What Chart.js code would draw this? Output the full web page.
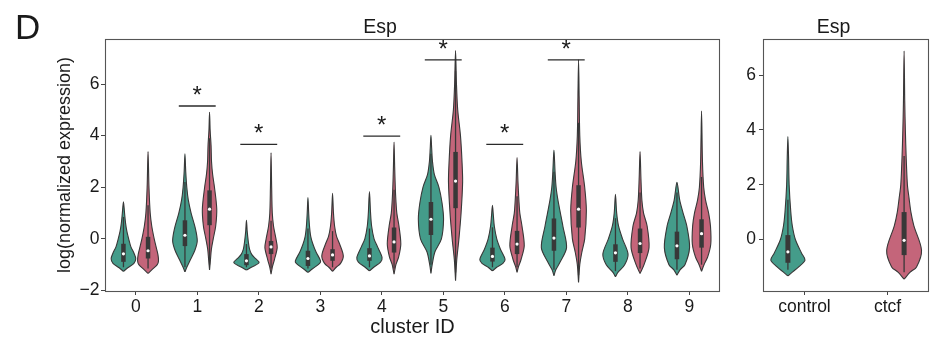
<!DOCTYPE html>
<html><head><meta charset="utf-8">
<script src="https://cdn.jsdelivr.net/npm/chart.js@4.4.0/dist/chart.umd.min.js"></script>
<style>
html,body{margin:0;padding:0;background:#fff;}
#wrap{position:relative;width:933px;height:339px;overflow:hidden;background:#fff;}
canvas{position:absolute;top:0;}
</style></head><body>
<div id="wrap">
<canvas id="left" width="735" height="339" style="left:0"></canvas>
<canvas id="right" width="198" height="339" style="left:735px"></canvas>
</div>
<script>
// ---------------- DATA ----------------
const clusters = ['0','1','2','3','4','5','6','7','8','9'];
const groups = ['control','ctcf'];
const yTicksLeft = [-2, 0, 2, 4, 6];
const yTicksRight = [0, 2, 4, 6];

// per-cluster box statistics (control = teal, ctcf = pink)
const controlQ1     = [-0.89,-0.28,-1.02,-1.05,-0.85, 0.15,-0.88,-0.46,-0.89,-0.79];
const controlMedian = [-0.58, 0.14,-0.85,-0.76,-0.66, 0.76,-0.68, 0.03,-0.54,-0.27];
const controlQ3     = [-0.19, 0.72,-0.59,-0.46,-0.36, 1.43,-0.34, 0.79,-0.21, 0.28];
const controlWhiskLow  = [-1.10,-1.10,-1.10,-1.15,-1.10,-1.00,-1.10,-1.20,-1.25,-1.20];
const controlWhiskHigh = [ 0.85, 2.20,-0.20, 0.40, 0.40, 3.30, 0.45, 2.60, 0.80, 1.80];

const ctcfQ1     = [-0.76, 0.53,-0.59,-0.85,-0.53, 1.19,-0.59, 0.44,-0.55,-0.34];
const ctcfMedian = [-0.46, 1.15,-0.31,-0.62,-0.12, 2.24,-0.20, 1.15,-0.18, 0.20];
const ctcfQ3     = [ 0.08, 1.88,-0.08,-0.40, 0.44, 3.37, 0.31, 2.08, 0.40, 0.76];
const ctcfWhiskLow  = [-1.15,-1.00,-1.15,-1.10,-1.15,-1.30,-1.10,-1.40,-1.15,-1.00];
const ctcfWhiskHigh = [ 1.30, 3.90, 0.70, 0.30, 1.90, 6.50, 1.65, 4.50, 1.80, 2.40];

// violin outlines: [value, half-width in category units], bottom tip to top tip
const controlShape = [
  [[-1.26,0],[-1.12,0.07],[-0.95,0.17],[-0.77,0.2],[-0.55,0.17],[-0.3,0.12],[0,0.085],[0.3,0.055],[0.6,0.035],[1.0,0.018],[1.44,0]],
  [[-1.28,0],[-1.1,0.03],[-0.8,0.09],[-0.45,0.16],[-0.08,0.2],[0.4,0.17],[1.0,0.1],[1.5,0.055],[2.0,0.03],[2.6,0.013],[3.3,0]],
  [[-1.21,0],[-1.1,0.08],[-0.92,0.205],[-0.75,0.14],[-0.6,0.085],[-0.4,0.05],[-0.1,0.03],[0.3,0.012],[0.72,0]],
  [[-1.3,0],[-1.15,0.08],[-0.95,0.19],[-0.85,0.205],[-0.5,0.13],[-0.2,0.08],[0.1,0.045],[0.5,0.025],[1.0,0.012],[1.6,0]],
  [[-1.24,0],[-1.1,0.07],[-0.9,0.18],[-0.72,0.205],[-0.3,0.13],[0,0.075],[0.5,0.035],[1.0,0.018],[1.83,0]],
  [[-1.34,0],[-1.0,0.02],[-0.5,0.065],[0,0.17],[0.76,0.205],[1.4,0.18],[2.0,0.13],[2.5,0.055],[3.0,0.025],[3.5,0.012],[4.01,0]],
  [[-1.24,0],[-1.1,0.07],[-0.95,0.17],[-0.79,0.205],[-0.4,0.13],[0,0.07],[0.5,0.03],[0.9,0.015],[1.3,0]],
  [[-1.43,0],[-1.2,0.03],[-0.9,0.1],[-0.34,0.205],[0.5,0.145],[1.0,0.105],[1.5,0.065],[2.0,0.035],[2.6,0.018],[3.44,0]],
  [[-1.47,0],[-1.3,0.04],[-1.0,0.15],[-0.59,0.205],[0,0.115],[0.5,0.05],[1.0,0.02],[1.73,0]],
  [[-1.41,0],[-1.2,0.05],[-1.0,0.13],[-0.34,0.205],[0.5,0.16],[1.0,0.1],[1.5,0.045],[2.19,0]]
];
const ctcfShape = [
  [[-1.34,0],[-1.2,0.06],[-1.0,0.15],[-0.85,0.17],[-0.6,0.16],[-0.3,0.13],[0,0.1],[0.5,0.06],[1.0,0.035],[2.0,0.015],[3.38,0]],
  [[-1.2,0],[-0.8,0.015],[-0.4,0.03],[0,0.06],[0.5,0.1],[1.16,0.117],[2.0,0.08],[2.5,0.05],[3.0,0.032],[3.6,0.025],[4.2,0.01],[4.91,0]],
  [[-1.37,0],[-1.1,0.02],[-0.8,0.055],[-0.34,0.1],[0,0.08],[0.5,0.04],[1.0,0.02],[2.0,0.01],[3.34,0]],
  [[-1.26,0],[-1.1,0.06],[-0.95,0.13],[-0.66,0.175],[-0.2,0.115],[0.1,0.065],[0.5,0.033],[1.0,0.015],[1.77,0]],
  [[-1.37,0],[-1.0,0.03],[-0.7,0.075],[-0.2,0.11],[0.5,0.08],[1.0,0.045],[1.5,0.03],[2.0,0.02],[2.8,0.01],[3.75,0]],
  [[-1.62,0],[-0.8,0.02],[0,0.055],[1.0,0.09],[2.2,0.115],[3.0,0.105],[4.0,0.08],[5.0,0.035],[6.0,0.015],[7.3,0]],
  [[-1.3,0],[-1.1,0.02],[-0.8,0.065],[-0.27,0.117],[0.5,0.08],[1.0,0.045],[1.5,0.03],[2.2,0.015],[3.15,0]],
  [[-1.69,0],[-1.0,0.02],[-0.5,0.055],[0,0.1],[1.1,0.127],[2.0,0.1],[3.0,0.045],[4.0,0.02],[5.5,0.01],[6.95,0]],
  [[-1.34,0],[-1.0,0.065],[-0.34,0.146],[0.5,0.115],[1.0,0.057],[1.5,0.03],[2.3,0.015],[3.38,0]],
  [[-1.26,0],[-1.0,0.04],[-0.7,0.1],[-0.2,0.15],[0.5,0.145],[1.0,0.115],[1.5,0.065],[2.0,0.035],[3.0,0.015],[4.95,0]]
];

// overall panel (control, ctcf)
const overallQ1     = [-0.85,-0.57];
const overallMedian = [-0.45,-0.03];
const overallQ3     = [ 0.16, 1.00];
const overallWhiskLow  = [-1.10,-1.20];
const overallWhiskHigh = [ 1.45, 3.05];
const overallShape = [
  [[-1.33,0],[-1.2,0.05],[-1.0,0.13],[-0.75,0.206],[-0.5,0.165],[0,0.09],[0.5,0.053],[1.0,0.035],[2.0,0.015],[3.0,0.008],[3.76,0]],
  [[-1.45,0],[-1.2,0.07],[-1.0,0.15],[-0.39,0.21],[0.5,0.118],[1.0,0.082],[1.5,0.06],[2.0,0.04],[3.0,0.025],[4.0,0.015],[5.0,0.008],[6.88,0]]
];

// significance brackets
const sigClusters = [1, 2, 4, 5, 6, 7];
const sigHeights  = [5.15, 3.66, 3.98, 6.94, 3.66, 6.94];

// ---------------- STYLE ----------------
const TEAL = '#449c8a', PINK = '#c4657a', EDGE = '#383838', BOXC = '#383838';
const FONT = "'Liberation Sans', Arial, sans-serif";
const DODGE = 0.2;
Chart.defaults.font.family = FONT;
Chart.defaults.color = '#1a1a1a';

function violin(center, shape, color){
  const left = shape.map(([v,w]) => ({x:center - w, y:v}));
  const right = shape.slice().reverse().map(([v,w]) => ({x:center + w, y:v}));
  right.shift();
  return {data:[...left, ...right], showLine:true, fill:'shape', backgroundColor:color,
          borderColor:EDGE, borderWidth:1.1, pointRadius:0, tension:0.3, order:4};
}
function seg(x1,y1,x2,y2,width,color,order,cap){
  return {data:[{x:x1,y:y1},{x:x2,y:y2}], showLine:true, fill:false, borderColor:color,
          borderWidth:width, pointRadius:0, borderCapStyle:cap||'butt', order:order};
}

const frame = {
  id:'frame',
  afterDraw(chart){
    const {ctx, chartArea:a} = chart;
    ctx.save(); ctx.strokeStyle = '#555'; ctx.lineWidth = 1.1;
    ctx.strokeRect(Math.round(a.left)+0.5, Math.round(a.top)+0.5, Math.round(a.right-a.left)-1, Math.round(a.bottom-a.top));
    ctx.restore();
  }
};

function scalesFor(xTicks, xLabels, yMin, yMax, yTicks, yWidth, yTitle, yPad){
  return {
    x:{type:'linear', min:-0.5, max:xTicks.length-0.5,
       afterBuildTicks:s=>{s.ticks = xTicks.map((_,i)=>({value:i}));},
       afterFit:s=>{s.height = 48;},
       grid:{drawOnChartArea:false, tickLength:4, color:'#444', tickWidth:1},
       border:{display:false},
       ticks:{callback:v=>xLabels[v], font:{size:17.5}, color:'#1a1a1a', padding:1.5, maxRotation:0},
       title:{display:!!yTitle, text:'cluster ID', font:{size:20}, color:'#1a1a1a', padding:{top:0,bottom:0}}},
    y:{type:'linear', min:yMin, max:yMax,
       afterBuildTicks:s=>{s.ticks = yTicks.map(v=>({value:v}));},
       afterFit:s=>{s.width = yWidth;},
       grid:{drawOnChartArea:false, tickLength:4, color:'#444', tickWidth:1},
       border:{display:false},
       ticks:{callback:v=>v<0?'\u2212'+Math.abs(v):String(v), font:{size:17.5}, color:'#1a1a1a', padding:yPad},
       title:{display:!!yTitle, text:yTitle||'', font:{size:18}, color:'#1a1a1a', padding:{top:14,bottom:0}}}
  };
}

// ---------------- LEFT PANEL ----------------
const leftSets = [];
const medPts = {teal:[], pink:[]};
clusters.forEach((c,i)=>{
  const ct = i - DODGE, cp = i + DODGE;
  leftSets.push(violin(ct, controlShape[i], TEAL));
  leftSets.push(violin(cp, ctcfShape[i], PINK));
  leftSets.push(seg(ct, controlWhiskLow[i], ct, controlWhiskHigh[i], 1.3, BOXC, 3));
  leftSets.push(seg(cp, ctcfWhiskLow[i], cp, ctcfWhiskHigh[i], 1.3, BOXC, 3));
  leftSets.push(seg(ct, controlQ1[i], ct, controlQ3[i], 4.5, BOXC, 2));
  leftSets.push(seg(cp, ctcfQ1[i], cp, ctcfQ3[i], 4.5, BOXC, 2));
  medPts.teal.push({x:ct, y:controlMedian[i]});
  medPts.pink.push({x:cp, y:ctcfMedian[i]});
});
leftSets.push({data:medPts.teal.concat(medPts.pink), showLine:false, pointRadius:1.6,
               pointBackgroundColor:'#ffffff', pointBorderWidth:0, order:1});
sigClusters.forEach((c,k)=>{
  leftSets.push(seg(c-0.3, sigHeights[k], c+0.3, sigHeights[k], 1.3, '#2a2a2a', 0));
});

const stars = {
  id:'stars',
  afterDatasetsDraw(chart){
    const {ctx, scales:{x,y}} = chart;
    ctx.save(); ctx.fillStyle = '#1a1a1a'; ctx.font = '24px ' + FONT;
    ctx.textAlign = 'center'; ctx.textBaseline = 'alphabetic';
    sigClusters.forEach((c,k)=>{
      ctx.fillText('*', x.getPixelForValue(c), y.getPixelForValue(sigHeights[k]) - 3);
    });
    ctx.font = '35px ' + FONT; ctx.textAlign = 'left';
    ctx.fillText('D', 15, 39);
    ctx.restore();
  }
};

new Chart(document.getElementById('left'), {
  type:'scatter',
  data:{datasets:leftSets},
  options:{
    responsive:false, animation:false, events:[], devicePixelRatio:1,
    layout:{padding:{left:40, right:15, top:0, bottom:0}},
    plugins:{legend:{display:false}, tooltip:{enabled:false},
      title:{display:true, text:'Esp', font:{size:19.5, weight:'normal'}, color:'#1a1a1a', padding:{top:15.5,bottom:0}}},
    scales:scalesFor(clusters, clusters, -2.02, 7.75, yTicksLeft, 65, 'log(normalized expression)', 1.5)
  },
  plugins:[frame, stars]
});

// ---------------- RIGHT PANEL ----------------
const rightSets = [];
const rMed = [];
groups.forEach((g,i)=>{
  const c = i === 0 ? i - DODGE : i + DODGE;
  const col = i === 0 ? TEAL : PINK;
  rightSets.push(violin(c, overallShape[i], col));
  rightSets.push(seg(c, overallWhiskLow[i], c, overallWhiskHigh[i], 1.3, BOXC, 3));
  rightSets.push(seg(c, overallQ1[i], c, overallQ3[i], 5, BOXC, 2));
  rMed.push({x:c, y:overallMedian[i]});
});
rightSets.push({data:rMed, showLine:false, pointRadius:1.6, pointBackgroundColor:'#ffffff', pointBorderWidth:0, order:1});

const rScales = scalesFor(groups, groups, -1.88, 7.32, yTicksRight, 28, null, 3);
new Chart(document.getElementById('right'), {
  type:'scatter',
  data:{datasets:rightSets},
  options:{
    responsive:false, animation:false, events:[], devicePixelRatio:1,
    layout:{padding:{left:0, right:1, top:0, bottom:0}},
    plugins:{legend:{display:false}, tooltip:{enabled:false},
      title:{display:true, text:'Esp', font:{size:19.5, weight:'normal'}, color:'#1a1a1a', padding:{top:15.5,bottom:0}}},
    scales:rScales
  },
  plugins:[frame]
});
</script>
</body></html>
